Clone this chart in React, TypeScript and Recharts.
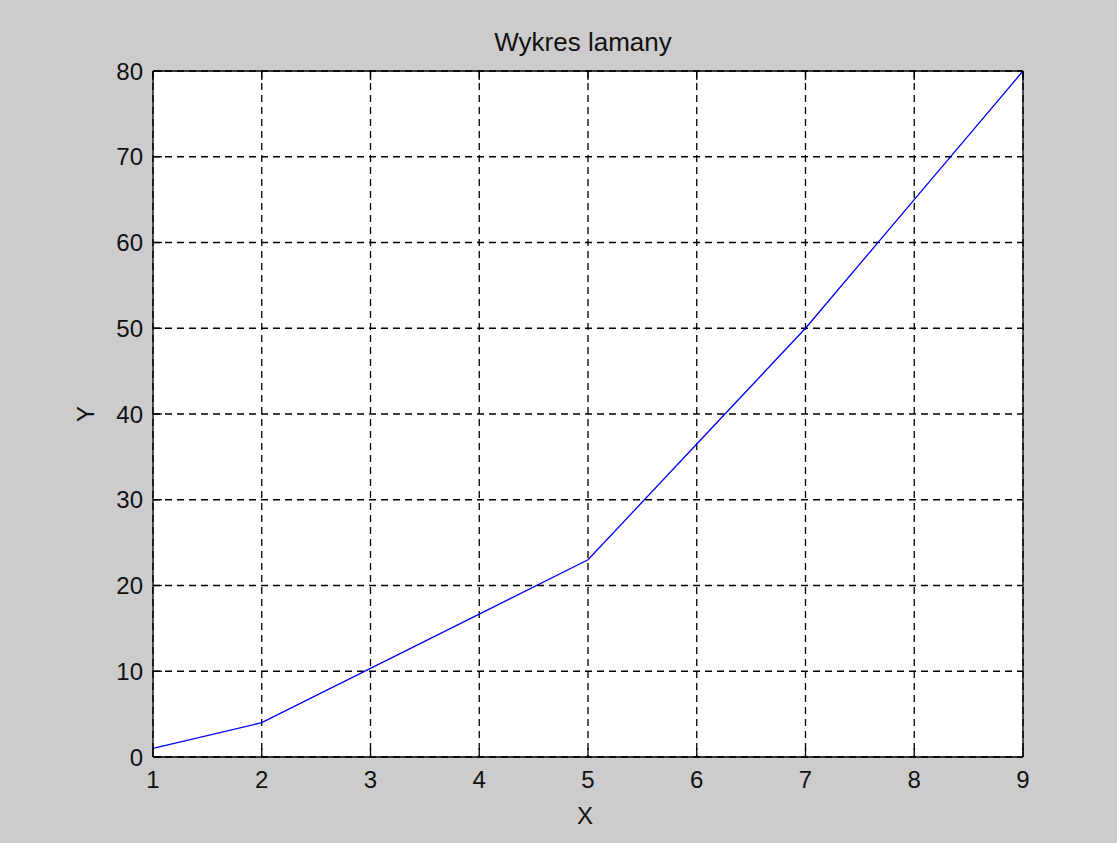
import { LineChart, Line, XAxis, YAxis, CartesianGrid, Label } from "recharts";

// dane
const xValues = [1, 2, 3, 4, 5, 6, 7, 8, 9];
const yValues = [1, 4, 10.33, 16.67, 23, 36.5, 50, 65, 80];
const xTicks = [1, 2, 3, 4, 5, 6, 7, 8, 9];
const yTicks = [0, 10, 20, 30, 40, 50, 60, 70, 80];

const data = xValues.map((x, i) => ({ x, y: yValues[i] }));

const FONT = "'Liberation Sans', Arial, sans-serif";
const FS = 24;
const TICK_LEN = 9;
const INK = "#111";

// ticki skierowane do wnetrza jak w MATLAB
const BottomTick = ({ x, y, payload }: any) => (
  <g>
    <line x1={x} y1={y} x2={x} y2={y - TICK_LEN} stroke="#000" strokeWidth={1.3} />
    <text x={x} y={y + 22} textAnchor="middle" dominantBaseline="central" fontSize={FS} fontFamily={FONT} fill={INK}>
      {payload.value}
    </text>
  </g>
);

const TopTick = ({ x, y }: any) => (
  <line x1={x} y1={y} x2={x} y2={y + TICK_LEN} stroke="#000" strokeWidth={1.3} />
);

const LeftTick = ({ x, y, payload }: any) => (
  <g>
    <line x1={x} y1={y} x2={x + TICK_LEN} y2={y} stroke="#000" strokeWidth={1.3} />
    <text x={x - 10} y={y} textAnchor="end" dominantBaseline="central" fontSize={FS} fontFamily={FONT} fill={INK}>
      {payload.value}
    </text>
  </g>
);

const RightTick = ({ x, y }: any) => (
  <line x1={x} y1={y} x2={x - TICK_LEN} y2={y} stroke="#000" strokeWidth={1.3} />
);

export default function App() {
  return (
    <div style={{ width: 1117, height: 843, background: "#cccccc" }}>
      <style>{`body{margin:0}`}</style>
      <LineChart width={1117} height={843} data={data} margin={{ top: 0, right: 0, bottom: 0, left: 0 }}>
        <CartesianGrid
          xAxisId="bottom"
          yAxisId="left"
          stroke="#000"
          strokeWidth={1.3}
          strokeDasharray="7 5"
          fill="#ffffff"
          fillOpacity={1}
        />
        <XAxis
          xAxisId="bottom"
          dataKey="x"
          type="number"
          domain={[1, 9]}
          ticks={xTicks}
          interval={0}
          height={86}
          tickSize={0}
          tickMargin={0}
          tickLine={false}
          tick={BottomTick}
          axisLine={{ stroke: "#000", strokeWidth: 1.3 }}
        >
          <Label
            content={({ viewBox }: any) => (
              <text x={viewBox.x + viewBox.width / 2 - 3} y={815} textAnchor="middle" dominantBaseline="central" fontSize={FS} fontFamily={FONT} fill={INK}>
                X
              </text>
            )}
          />
        </XAxis>
        <XAxis
          xAxisId="top"
          orientation="top"
          dataKey="x"
          type="number"
          domain={[1, 9]}
          ticks={xTicks}
          interval={0}
          height={71}
          tickSize={0}
          tickMargin={0}
          tickLine={false}
          tick={TopTick}
          axisLine={{ stroke: "#000", strokeWidth: 1.3 }}
        >
          <Label
            content={({ viewBox }: any) => (
              <text x={viewBox.x + viewBox.width / 2 - 5} y={42} textAnchor="middle" dominantBaseline="central" fontSize={26} fontFamily={FONT} fill={INK}>
                Wykres lamany
              </text>
            )}
          />
        </XAxis>
        <YAxis
          yAxisId="left"
          type="number"
          domain={[0, 80]}
          ticks={yTicks}
          interval={0}
          width={153}
          tickSize={0}
          tickMargin={0}
          tickLine={false}
          tick={LeftTick}
          axisLine={{ stroke: "#000", strokeWidth: 1.3 }}
        >
          <Label
            content={({ viewBox }: any) => (
              <text
                x={85}
                y={viewBox.y + viewBox.height / 2}
                transform={`rotate(-90 85 ${viewBox.y + viewBox.height / 2})`}
                textAnchor="middle"
                dominantBaseline="central"
                fontSize={FS}
                fontFamily={FONT}
                fill={INK}
              >
                Y
              </text>
            )}
          />
        </YAxis>
        <YAxis
          yAxisId="right"
          orientation="right"
          type="number"
          domain={[0, 80]}
          ticks={yTicks}
          interval={0}
          width={94}
          tickSize={0}
          tickMargin={0}
          tickLine={false}
          tick={RightTick}
          axisLine={{ stroke: "#000", strokeWidth: 1.3 }}
        />
        <Line
          xAxisId="bottom"
          yAxisId="left"
          type="linear"
          dataKey="y"
          stroke="#0000ff"
          strokeWidth={1.3}
          dot={false}
          isAnimationActive={false}
        />
      </LineChart>
    </div>
  );
}
